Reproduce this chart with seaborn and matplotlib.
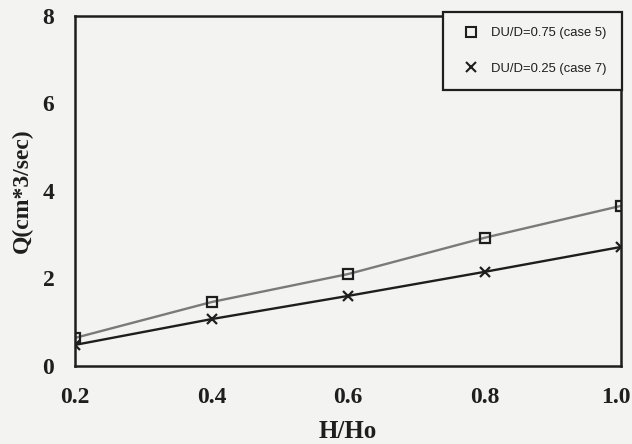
import matplotlib
matplotlib.use("Agg")
import matplotlib.pyplot as plt
import matplotlib.transforms as mtransforms
import seaborn as sns
import pandas as pd
from matplotlib.lines import Line2D

h_ratio = [0.2, 0.4, 0.6, 0.8, 1.0]
q_case5 = [0.64, 1.46, 2.10, 2.93, 3.66]
q_case7 = [0.48, 1.07, 1.60, 2.15, 2.72]
labels = ["DU/D=0.75 (case 5)", "DU/D=0.25 (case 7)"]
x_ticks = [0.2, 0.4, 0.6, 0.8, 1.0]
x_tick_labels = ["0.2", "0.4", "0.6", "0.8", "1.0"]
y_ticks = [0, 2, 4, 6, 8]

df5 = pd.DataFrame({"H/Ho": h_ratio, "Q": q_case5})
df7 = pd.DataFrame({"H/Ho": h_ratio, "Q": q_case7})

sns.set_style("white")
plt.rcParams["font.family"] = ["Liberation Serif", "DejaVu Serif"]

fig = plt.figure(figsize=(6.32, 4.44), dpi=100)
bg = "#f3f3f1"
ink = "#1e1e1e"
fig.patch.set_facecolor(bg)
ax = fig.add_axes([0.119, 0.176, 0.864, 0.788])
ax.set_facecolor(bg)

sns.lineplot(data=df5, x="H/Ho", y="Q", color="#7a7a7a", linewidth=1.7,
             marker="s", markersize=7, markerfacecolor="none",
             markeredgecolor=ink, markeredgewidth=1.6, ax=ax)
sns.lineplot(data=df7, x="H/Ho", y="Q", color=ink, linewidth=1.7,
             marker="x", markersize=7, markeredgecolor=ink,
             markeredgewidth=1.6, ax=ax)

ax.set_xlim(0.2, 1.0)
ax.set_ylim(0, 8)
ax.set_xticks(x_ticks)
ax.set_xticklabels(x_tick_labels)
ax.set_yticks(y_ticks)
ax.tick_params(direction="in", length=4, width=1.2, colors=ink,
               labelsize=17)
ax.tick_params(axis="x", pad=15)
ax.tick_params(axis="y", pad=15)
for lbl in ax.get_xticklabels() + ax.get_yticklabels():
    lbl.set_fontweight("bold")
# nudge the last x tick label so it stays inside the figure
last = ax.get_xticklabels()[-1]
last.set_transform(last.get_transform() +
                   mtransforms.ScaledTranslation(-5 / 100, 0, fig.dpi_scale_trans))
for s in ax.spines.values():
    s.set_linewidth(1.8)
    s.set_color(ink)

ax.set_xlabel("H/Ho", fontsize=18, fontweight="bold", color=ink, labelpad=9)
ax.set_ylabel("Q(cm*3/sec)", fontsize=17, fontweight="bold", color=ink, labelpad=7)

handles = [
    Line2D([], [], linestyle="none", marker="s", markerfacecolor="none",
           markeredgecolor=ink, markersize=6.5, markeredgewidth=1.5),
    Line2D([], [], linestyle="none", marker="x", markeredgecolor=ink,
           markersize=6.5, markeredgewidth=1.5),
]
leg = ax.legend(handles, labels, loc="upper right",
                bbox_to_anchor=(622 / 632, 1 - 12 / 444),
                bbox_transform=fig.transFigure,
                frameon=True, fancybox=False,
                prop={"family": "Liberation Sans", "size": 9.4},
                borderaxespad=0, labelspacing=1.8, borderpad=1.15,
                handletextpad=0.6, edgecolor=ink, facecolor=bg, framealpha=1)
leg.get_frame().set_linewidth(1.6)
for t in leg.get_texts():
    t.set_color(ink)

fig.savefig("out.png", dpi=100, facecolor=bg)
